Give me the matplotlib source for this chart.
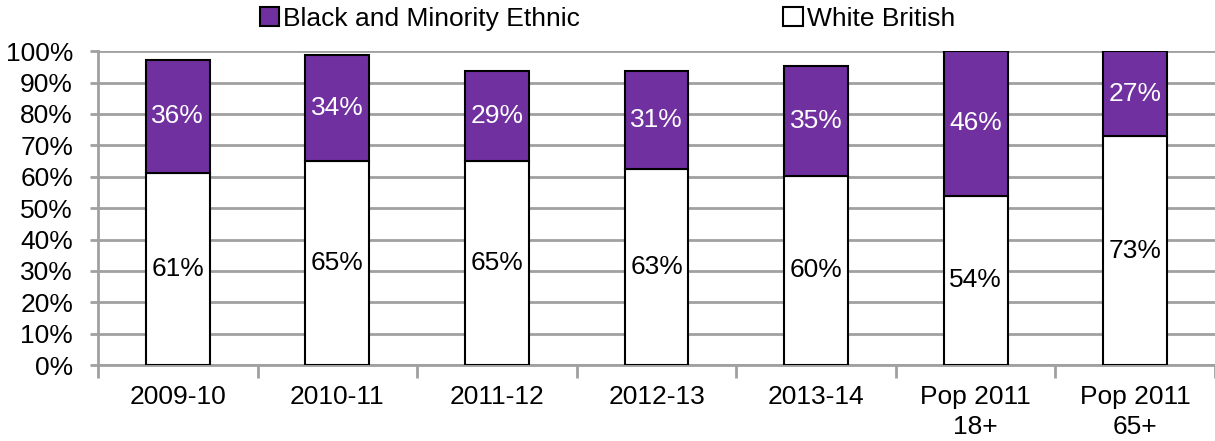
import numpy as np
import matplotlib
matplotlib.use("Agg")
import matplotlib.pyplot as plt

plt.rcParams['font.family'] = ['Liberation Sans', 'DejaVu Sans']

# data (percent)
categories = ['2009-10', '2010-11', '2011-12', '2012-13', '2013-14', 'Pop 2011\n18+', 'Pop 2011\n65+']
white_british = [61.3, 64.9, 64.9, 62.6, 60.3, 54.0, 72.9]
bme = [36.0, 34.0, 28.9, 31.0, 34.9, 46.0, 27.1]
white_labels = ['61%', '65%', '65%', '63%', '60%', '54%', '73%']
bme_labels = ['36%', '34%', '29%', '31%', '35%', '46%', '27%']

purple = '#7030A0'
grey = '#A0A0A0'
fs = 19

fig = plt.figure(figsize=(12.15, 4.41), dpi=100)
ax = fig.add_axes([0.0807, 0.172, 0.9193, 0.712])

x = np.arange(len(categories))
w = 0.4
b1 = ax.bar(x, white_british, w, color='white', edgecolor='black', linewidth=1.5, zorder=3, label='White British')
b2 = ax.bar(x, bme, w, bottom=white_british, color=purple, edgecolor='black', linewidth=1.5, zorder=3,
            label='Black and Minority Ethnic')

for i in range(len(categories)):
    ax.text(x[i], white_british[i] / 2, white_labels[i], ha='center', va='center', fontsize=fs, color='black', zorder=4)
    ax.text(x[i], white_british[i] + bme[i] / 2, bme_labels[i], ha='center', va='center', fontsize=fs,
            color='white', zorder=4)

ax.set_xlim(-0.5, len(categories) - 0.5)
ax.set_ylim(0, 100)
ax.set_yticks(np.arange(0, 101, 10))
ax.set_yticklabels([f'{v}%' for v in range(0, 101, 10)], fontsize=fs)
ax.yaxis.grid(True, color=grey, linewidth=2, zorder=0)

ax.set_xticks(x)
ax.set_xticklabels(categories, fontsize=fs, linespacing=1.35)
ax.tick_params(axis='x', length=0, pad=14)
ax.tick_params(axis='y', length=6, width=2, color=grey, pad=12)
ax.set_xticks(np.arange(-0.5, len(categories)), minor=True)
ax.tick_params(axis='x', which='minor', length=9, width=2, color=grey)

for s in ['top', 'right']:
    ax.spines[s].set_visible(False)
for s in ['left', 'bottom']:
    ax.spines[s].set_color(grey)
    ax.spines[s].set_linewidth(2)

fig.legend(handles=[b2, b1], loc='center', bbox_to_anchor=(0.5, 0.958), ncol=2, frameon=False,
           fontsize=fs, handlelength=0.75, handleheight=0.75, handletextpad=0.15, columnspacing=7.7)

fig.savefig('out.png', dpi=100)
